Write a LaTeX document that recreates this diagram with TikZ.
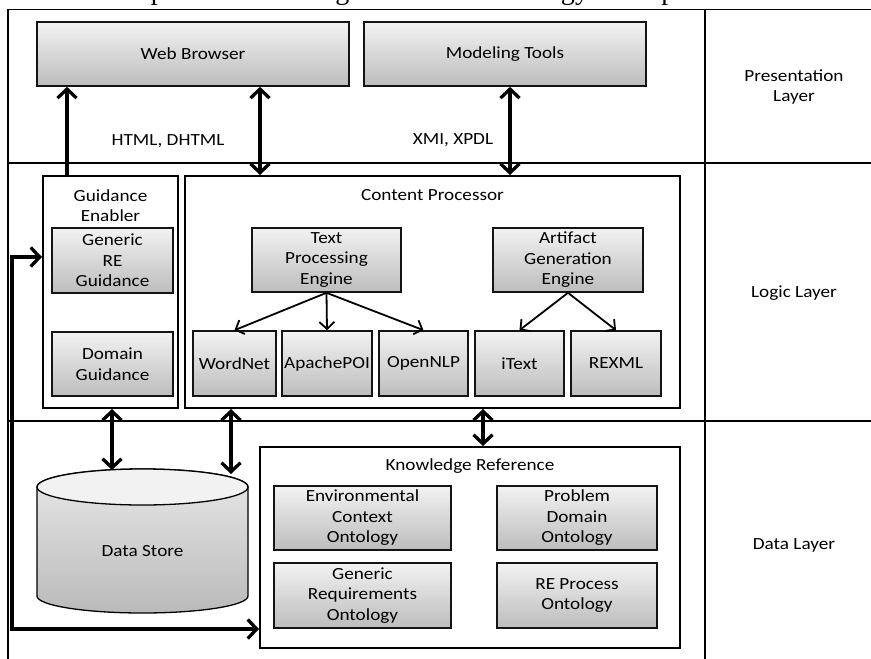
\documentclass[tikz,border=0pt]{standalone}
\usepackage{fontspec}
\setmainfont{Carlito}[FakeStretch=1.13]
\newfontfamily\capfont{Liberation Serif}
\usetikzlibrary{arrows.meta,calc}
\definecolor{gtop}{gray}{0.95}
\definecolor{gbot}{gray}{0.74}
\definecolor{ctop}{gray}{0.91}
\definecolor{cbot}{gray}{0.73}
\definecolor{cend}{gray}{0.95}
\definecolor{bdr}{gray}{0.08}
\tikzset{
  gbox/.style={draw=bdr, line width=1.6pt, top color=gtop, bottom color=gbot, align=center, inner sep=0pt},
  obox/.style={draw=black, line width=2pt, fill=white, inner sep=0pt},
  txt/.style={align=center, inner sep=0pt},
  bigarr/.style={line width=3.3pt, -{Straight Barb[length=9pt,width=19pt]}},
  bigdbl/.style={line width=3.3pt, {Straight Barb[length=9pt,width=19pt]}-{Straight Barb[length=9pt,width=19pt]}},
  smallarr/.style={line width=1.8pt, -{Straight Barb[length=7pt,width=15pt]}},
  frameline/.style={line width=1.3pt, black},
}
\begin{document}
\begin{tikzpicture}[x=1pt,y=1pt,font=\fontsize{17}{20.5}\selectfont]
\useasboundingbox (0,0) rectangle (871,-659);
\clip (0,0) rectangle (871,-659);
% cropped caption line
\node[anchor=base west, inner sep=0pt] (caption) at (9,0.5) {\resizebox{849pt}{!}{\capfont module to represent knowledge in form of ontology concepts and instances.}};
% frame
\draw[frameline] (8,-659) -- (8,-9.5) -- (871,-9.5);
\draw[line width=2pt] (705,-9.5) -- (705,-659);
\draw[frameline] (8,-163) -- (871,-163);
\draw[frameline] (8,-421) -- (871,-421);
% layer labels
\node[txt] (lp) at (794,-87) {Presentation\\Layer};
\node[txt] (ll) at (794,-293) {Logic Layer};
\node[txt] (ld) at (794,-545) {Data Layer};
% presentation layer
\node[gbox, minimum width=312pt, minimum height=64pt] (wb) at (193,-54) {Web Browser};
\node[gbox, minimum width=282pt, minimum height=64pt] (mt) at (505,-54) {Modeling Tools};
\node[txt] (lh) at (168,-141) {HTML, DHTML};
\node[txt] (lx) at (453,-140) {XMI, XPDL};
% logic layer
\node[obox, minimum width=135pt, minimum height=232pt] (ge) at (110.5,-292) {};
\node[txt] (get) at (110.5,-205.5) {Guidance\\Enabler};
\node[gbox, minimum width=121pt, minimum height=65pt] (gre) at (112.5,-260.5) {Generic\\RE\\Guidance};
\node[gbox, minimum width=121pt, minimum height=64pt] (dg) at (112.5,-364) {Domain\\Guidance};
\node[obox, minimum width=495pt, minimum height=232pt] (cp) at (432.5,-292) {};
\node[txt] (cpt) at (432.5,-195) {Content Processor};
\node[gbox, minimum width=149pt, minimum height=64pt] (tpe) at (326.5,-260) {Text\\Processing\\Engine};
\node[gbox, minimum width=150pt, minimum height=64pt] (age) at (568,-260) {Artifact\\Generation\\Engine};
\node[gbox, minimum width=83pt, minimum height=65pt] (wn) at (234.5,-363.5) {WordNet};
\node[gbox, minimum width=90pt, minimum height=65pt] (ap) at (327,-363.5) {ApachePOI};
\node[gbox, minimum width=89pt, minimum height=65pt] (on) at (423.5,-363.5) {OpenNLP};
\node[gbox, minimum width=89pt, minimum height=65pt] (it) at (519.5,-363.5) {iText};
\node[gbox, minimum width=90pt, minimum height=65pt] (rx) at (616,-363.5) {REXML};
\draw[smallarr] (tpe.south) -- (wn.north);
\draw[smallarr] (tpe.south) -- (ap.north);
\draw[smallarr] (tpe.south) -- (on.north);
\draw[smallarr] (age.south) -- (it.north);
\draw[smallarr] (age.south) -- (rx.north);
% data layer
\shade[top color=ctop, bottom color=cbot, draw=black, line width=1.3pt]
  (37,-487) -- (37,-596) arc[start angle=180, end angle=360, x radius=105.5, y radius=17] -- (248,-487) arc[start angle=0, end angle=180, x radius=105.5, y radius=18] -- cycle;
\filldraw[fill=cend, draw=black, line width=1.3pt] (142.5,-487) ellipse[x radius=105.5, y radius=18];
\node[txt] (ds) at (142.5,-551) {Data Store};
\coordinate (dstopa) at (112,-470);
\coordinate (dstopb) at (231,-474);
\node[obox, minimum width=420pt, minimum height=201pt] (kr) at (470,-547.5) {};
\node[txt] (krt) at (470,-466) {Knowledge Reference};
\node[gbox, minimum width=177pt, minimum height=64pt] (eco) at (362.5,-518) {Environmental\\Context\\Ontology};
\node[gbox, minimum width=160pt, minimum height=64pt] (pdo) at (577,-518) {Problem\\Domain\\Ontology};
\node[gbox, minimum width=177pt, minimum height=65pt] (gro) at (362.5,-595.5) {Generic\\Requirements\\Ontology};
\node[gbox, minimum width=160pt, minimum height=65pt] (rpo) at (577,-595.5) {RE Process\\Ontology};
% thick connectors
\coordinate (u1) at ([xshift=-43.5pt]ge.north);
\draw[bigarr] (u1) -- (u1 |- wb.south);
\coordinate (d1) at ([xshift=-172.5pt]cp.north);
\draw[bigdbl] (d1 |- wb.south) -- (d1);
\coordinate (d2) at ([xshift=77.5pt]cp.north);
\draw[bigdbl] (d2 |- mt.south) -- (d2);
\coordinate (d3) at ([xshift=1.5pt]ge.south);
\draw[bigdbl] (d3) -- (d3 |- dstopa);
\coordinate (d4) at ([xshift=-201.5pt]cp.south);
\draw[bigdbl] (d4) -- (d4 |- dstopb);
\coordinate (d5) at ([xshift=50.5pt]cp.south);
\draw[bigdbl] (d5) -- (d5 |- kr.north);
\coordinate (f1) at ([yshift=-82pt]ge.north west);
\coordinate (f2) at ([yshift=20pt]kr.south west);
\draw[bigdbl] (f1) -- ++(-30pt,0) |- (f2);
\end{tikzpicture}
\end{document}
